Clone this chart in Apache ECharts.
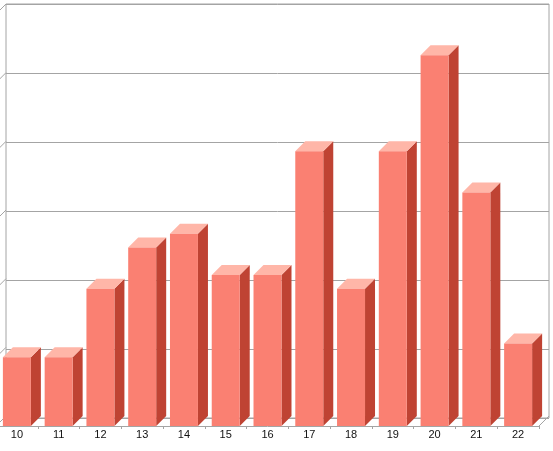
<!DOCTYPE html>
<html>
<head>
<meta charset="utf-8">
<script src="https://cdn.jsdelivr.net/npm/echarts@6/dist/echarts.min.js"></script>
<style>
html,body{margin:0;padding:0;background:#fff;overflow:hidden;}
#c{width:557px;height:451px;margin-left:-4px;}
</style>
</head>
<body>
<div id="c"></div>
<script>
var categories = ['10','11','12','13','14','15','16','17','18','19','20','21','22'];
var values = [5, 5, 10, 13, 14, 11, 11, 20, 10, 20, 27, 17, 6];
var yTicks = [0, 5, 10, 15, 20, 25, 30];

var DX = 10, DY = 10;
var FRONT = '#fa8072', SIDE = '#bf4333', TOP = '#ffb6a8';
var GRID = '#a4a4a4';

var chart = echarts.init(document.getElementById('c'), null, {renderer: 'canvas'});

function renderBar(params, api) {
  var i = api.value(0), v = api.value(1);
  var base = api.coord([i, 0]);
  var top = api.coord([i, v]);
  var w = api.size([1, 0])[0] * 0.67;
  var x0 = base[0] - w / 2, x1 = base[0] + w / 2;
  var yb = base[1], yt = top[1];
  return {
    type: 'group',
    children: [
      {type: 'polygon', shape: {points: [[x1, yb], [x1 + DX, yb - DY], [x1 + DX, yt - DY], [x1, yt]]}, style: {fill: SIDE}},
      {type: 'polygon', shape: {points: [[x0, yt], [x0 + DX, yt - DY], [x1 + DX, yt - DY], [x1, yt]]}, style: {fill: TOP}},
      {type: 'rect', shape: {x: x0, y: yt, width: w, height: yb - yt}, style: {fill: FRONT}}
    ]
  };
}

function renderWall(params, api) {
  var v = api.value(0);
  var cs = params.coordSys;
  var y = api.coord([0, v])[1];
  var xl = cs.x;
  return {
    type: 'line',
    shape: {x1: xl, y1: y, x2: xl + DX, y2: y - DY},
    style: {stroke: GRID, lineWidth: 1}
  };
}

function renderFloorEdge(params, api) {
  var cs = params.coordSys;
  var xr = cs.x + cs.width;
  var yb = cs.y + cs.height;
  return {
    type: 'line',
    shape: {x1: xr, y1: yb, x2: xr + DX, y2: yb - DY},
    style: {stroke: GRID, lineWidth: 1}
  };
}

chart.setOption({
  animation: false,
  backgroundColor: '#ffffff',
  grid: [
    {left: 10, right: 4, top: 4, bottom: 33, show: true, borderColor: GRID, borderWidth: 1, backgroundColor: '#ffffff'},
    {left: 0, right: 14, top: 14, bottom: 25}
  ],
  xAxis: [
    {gridIndex: 0, type: 'category', data: categories, show: false},
    {gridIndex: 1, type: 'category', data: categories,
     axisLine: {show: true, lineStyle: {color: GRID, width: 1}},
     axisTick: {show: true, length: 3, lineStyle: {color: GRID}},
     axisLabel: {color: '#111', fontFamily: 'Liberation Sans', fontSize: 11, margin: 3}}
  ],
  yAxis: [
    {gridIndex: 0, type: 'value', min: 0, max: 30, interval: 5,
     axisLine: {show: false}, axisTick: {show: false}, axisLabel: {show: false},
     splitLine: {show: true, lineStyle: {color: GRID, width: 1}}},
    {gridIndex: 1, type: 'value', min: 0, max: 30, interval: 5, show: false,
     splitLine: {show: false}}
  ],
  series: [
    {type: 'custom', xAxisIndex: 1, yAxisIndex: 1, silent: true, clip: false,
     data: yTicks.map(function (t) { return [t]; }), encode: {y: 0}, renderItem: renderWall},
    {type: 'custom', xAxisIndex: 1, yAxisIndex: 1, silent: true, clip: false,
     data: [[0]], renderItem: renderFloorEdge},
    {type: 'custom', xAxisIndex: 1, yAxisIndex: 1, silent: true, clip: false,
     data: values.map(function (v, i) { return [i, v]; }), encode: {x: 0, y: 1}, renderItem: renderBar}
  ]
});
</script>
</body>
</html>
